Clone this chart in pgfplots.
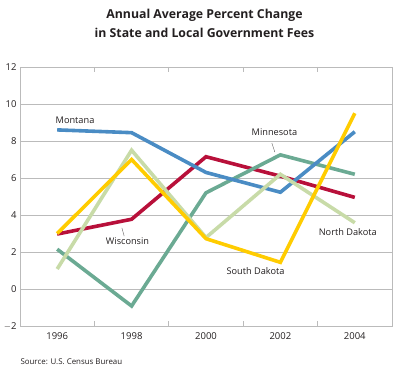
\documentclass[border=0pt]{standalone}
\usepackage{fontspec}
\setmainfont{Open Sans}
\usepackage{pgfplots}
\pgfplotsset{compat=1.18}
\definecolor{cBlue}{HTML}{4A8CC4}
\definecolor{cTeal}{HTML}{6BAA93}
\definecolor{cRed}{HTML}{B8103A}
\definecolor{cYel}{HTML}{FFCC00}
\definecolor{cLgr}{HTML}{C8DBA8}
\definecolor{cGrid}{HTML}{BBBBBB}
\definecolor{cTxt}{HTML}{231F20}
\begin{document}
\begin{tikzpicture}
\path (0pt,0pt) rectangle (400pt,374pt);
\begin{axis}[
  at={(20pt,48pt)}, anchor=south west,
  scale only axis, width=372pt, height=259pt,
  xmin=1995, xmax=2005, ymin=-2, ymax=12,
  xtick={1996,1998,2000,2002,2004},
  xticklabels={1996,1998,2000,2002,2004},
  minor xtick={1997,1999,2001,2003},
  ytick={-2,0,2,4,6,8,10,12},
  yticklabels={$-$2,0,2,4,6,8,10,12},
  major x tick style={draw=none},
  minor x tick style={draw=cGrid, line width=0.8pt},
  minor tick length=5pt,
  y tick style={draw=none},
  ymajorgrids, grid style={cGrid, line width=0.9pt},
  axis line style={cGrid, line width=0.9pt},
  tick label style={font=\fontsize{9.5}{11}\selectfont, text=cTxt},
  /pgf/number format/assume math mode=true,
  xticklabel style={yshift=-3pt},
  every axis plot/.append style={line width=3.6pt, line join=miter},
  clip=false,
]
\addplot[cRed] coordinates {(1996,2.97) (1998,3.77) (2000,7.15) (2002,6.1) (2004,4.95)};
\addplot[cTeal] coordinates {(1996,2.15) (1998,-0.92) (2000,5.2) (2002,7.25) (2004,6.2)};
\addplot[cBlue] coordinates {(1996,8.6) (1998,8.45) (2000,6.3) (2002,5.23) (2004,8.5)};
\addplot[cLgr] coordinates {(1996,1.08) (1998,7.5) (2000,2.78) (2002,6.2) (2004,3.58)};
\addplot[cYel] coordinates {(1996,3.0) (1998,7.0) (2000,2.72) (2002,1.44) (2004,9.5)};
\begin{scope}[font=\fontsize{9.2}{11}\selectfont, text=cTxt]
\node at (axis cs:1996.48,9.14) {Montana};
\node at (axis cs:2001.84,8.45) {Minnesota};
\draw[cTxt!70, line width=0.4pt] (axis cs:2001.77,7.89) -- (axis cs:2001.85,7.4);
\node at (axis cs:1997.89,2.61) {Wisconsin};
\draw[cTxt!70, line width=0.4pt] (axis cs:1997.74,3.30) -- (axis cs:1997.80,2.86);
\node at (axis cs:2003.81,3.08) {North Dakota};
\node at (axis cs:2001.33,0.97) {South Dakota};
\end{scope}
\end{axis}
\node[font=\fontsize{12.3}{19}\selectfont\bfseries, text=cTxt, align=center] at (204.5pt,350.5pt) {Annual Average Percent Change\\in State and Local Government Fees};
\node[font=\fontsize{7.9}{9}\selectfont, text=cTxt, anchor=west] at (17pt,12pt) {Source: U.S. Census Bureau};
\end{tikzpicture}
\end{document}
